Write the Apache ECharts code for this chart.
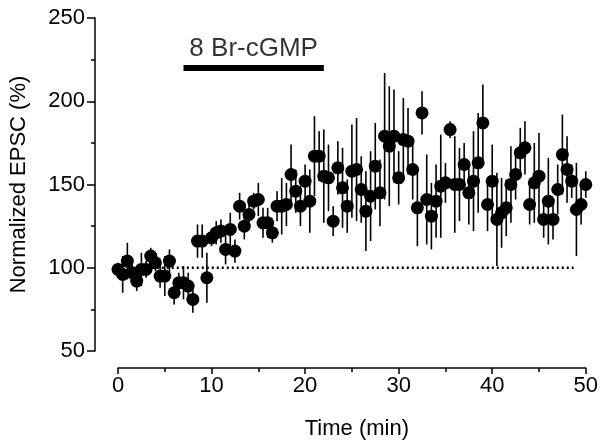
<!DOCTYPE html>
<html>
<head>
<meta charset="utf-8">
<script src="https://cdn.jsdelivr.net/npm/echarts@6/dist/echarts.min.js"></script>
<style>
  html, body { margin: 0; padding: 0; background: #fff; }
  #main { width: 601px; height: 448px; }
</style>
</head>
<body>
<div id="main"></div>
<script>
// time points (min)
var times = [0, 0.5, 1, 1.5, 2, 2.5, 3, 3.5, 4, 4.5, 5, 5.5, 6, 6.5, 7, 7.5, 8, 8.5, 9, 9.5,
    10, 10.5, 11, 11.5, 12, 12.5, 13, 13.5, 14, 14.5, 15, 15.5, 16, 16.5, 17, 17.5, 18, 18.5, 19, 19.5,
    20, 20.5, 21, 21.5, 22, 22.5, 23, 23.5, 24, 24.5, 25, 25.5, 26, 26.5, 27, 27.5, 28, 28.5, 29, 29.5,
    30, 30.5, 31, 31.5, 32, 32.5, 33, 33.5, 34, 34.5, 35, 35.5, 36, 36.5, 37, 37.5, 38, 38.5, 39, 39.5,
    40, 40.5, 41, 41.5, 42, 42.5, 43, 43.5, 44, 44.5, 45, 45.5, 46, 46.5, 47, 47.5, 48, 48.5, 49, 49.5, 50];

// normalized EPSC (%)
var epsc = [99, 96, 104, 97, 92, 99, 99, 107, 103, 95, 95, 104, 85, 91, 91, 89, 81, 116, 116, 94,
    118, 121, 122, 111, 123, 110, 137, 125, 132, 140, 141, 127, 127, 121, 137, 137, 138, 156, 146, 137,
    152, 140, 167, 167, 155, 154, 128, 160, 148, 137, 158, 159, 147, 134, 143, 161, 145, 179, 173, 179,
    154, 177, 176, 159, 136, 193, 141, 131, 140, 149, 151, 183, 150, 150, 162, 145, 152, 163, 187, 138,
    152, 129, 133, 136, 150, 156, 169, 172, 138, 151, 155, 129, 140, 129, 147, 168, 159, 152, 135, 138, 150];

// SEM
var sem = [4, 11, 11, 6, 6, 10, 5, 5, 5, 7, 12, 7, 7, 6, 10, 8, 8, 10, 10, 15,
    5, 7, 7, 9, 10, 7, 8, 8, 6, 5, 10, 9, 9, 6, 9, 17, 13, 18, 13, 12,
    10, 19, 24, 15, 28, 20, 9, 16, 24, 16, 28, 31, 20, 24, 27, 26, 20, 38, 36, 28,
    16, 25, 20, 18, 23, 13, 27, 20, 22, 31, 12, 5, 29, 22, 13, 19, 30, 30, 23, 16,
    22, 28, 21, 17, 23, 15, 15, 16, 12, 24, 26, 11, 26, 12, 15, 24, 20, 10, 28, 12, 8];

// drug application bar
var drugName = '8 Br-cGMP';
var drugStart = 7;
var drugEnd = 22;
var drugLevel = 220;

// baseline
var baseline = 100;
var baselineFrom = -1.2;
var baselineTo = 48.7;

var points = times.map(function (t, i) { return [t, epsc[i]]; });
var bars = times.map(function (t, i) { return [t, epsc[i], sem[i]]; });

var font = 'Liberation Sans, Arial, sans-serif';

var myChart = echarts.init(document.getElementById('main'));
myChart.setOption({
    animation: false,
    backgroundColor: '#fff',
    grid: { left: 118, right: 9, top: 18, bottom: 97 },
    xAxis: {
        type: 'value',
        min: 0,
        max: 50,
        interval: 10,
        offset: 17,
        name: 'Time (min)',
        nameLocation: 'middle',
        nameGap: 50,
        nameTextStyle: { fontSize: 22, color: '#000', fontFamily: font, padding: [0, 0, 0, 10] },
        axisLine: { onZero: false, lineStyle: { color: '#000', width: 1.5 } },
        axisTick: { length: 6, lineStyle: { color: '#000', width: 1.5 } },
        minorTick: { show: true, splitNumber: 2, length: 4, lineStyle: { color: '#000', width: 1.5 } },
        axisLabel: { fontSize: 22, color: '#000', fontFamily: font, margin: 7 },
        splitLine: { show: false }
    },
    yAxis: {
        type: 'value',
        min: 50,
        max: 250,
        interval: 50,
        offset: 23,
        name: 'Normalized EPSC (%)',
        nameLocation: 'middle',
        nameGap: 65,
        nameTextStyle: { fontSize: 22, color: '#000', fontFamily: font },
        axisLine: { show: true, onZero: false, lineStyle: { color: '#000', width: 1.5 } },
        axisTick: { show: true, length: 8, lineStyle: { color: '#000', width: 1.5 } },
        minorTick: { show: true, splitNumber: 2, length: 4, lineStyle: { color: '#000', width: 1.5 } },
        axisLabel: { fontSize: 22, color: '#000', fontFamily: font, margin: 10 },
        splitLine: { show: false }
    },
    series: [
        {
            type: 'line',
            data: [[baselineFrom, baseline], [baselineTo, baseline]],
            showSymbol: false,
            clip: false,
            silent: true,
            lineStyle: { color: '#000', width: 2.5, type: [2, 3] },
            z: 1
        },
        {
            type: 'custom',
            data: bars,
            clip: false,
            silent: true,
            renderItem: function (params, api) {
                var x = api.value(0), y = api.value(1), e = api.value(2);
                var p1 = api.coord([x, y + e]);
                var p2 = api.coord([x, y - e]);
                return {
                    type: 'line',
                    shape: { x1: p1[0], y1: p1[1], x2: p2[0], y2: p2[1] },
                    style: { stroke: '#000', lineWidth: 1.6 }
                };
            },
            z: 2
        },
        {
            type: 'scatter',
            data: points,
            symbol: 'circle',
            symbolSize: 13,
            clip: false,
            silent: true,
            itemStyle: { color: '#000', opacity: 1 },
            z: 3
        },
        {
            type: 'line',
            data: [[drugStart, drugLevel], [drugEnd, drugLevel]],
            showSymbol: false,
            clip: false,
            silent: true,
            lineStyle: { color: '#000', width: 6, cap: 'butt' },
            z: 4
        },
        {
            type: 'scatter',
            data: [[(drugStart + drugEnd) / 2, drugLevel]],
            symbolSize: 0,
            silent: true,
            label: {
                show: true,
                position: 'top',
                distance: 6,
                formatter: drugName,
                fontSize: 26,
                color: '#000',
                fontFamily: font
            },
            z: 4
        }
    ]
});
</script>
</body>
</html>
